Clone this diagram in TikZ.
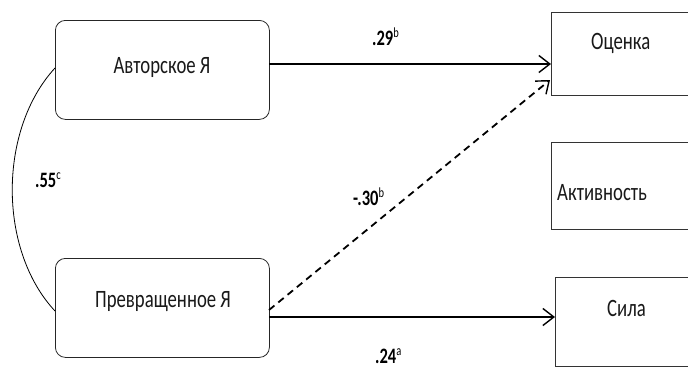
\documentclass[tikz,border=0pt]{standalone}
\usepackage{fontspec}
\setmainfont{Carlito}[FakeStretch=0.75]
\usetikzlibrary{arrows.meta}
\tikzset{
  srcbox/.style={draw=black!85, rounded corners=10pt, line width=0.8pt, minimum width=214pt, minimum height=99pt, inner sep=0pt, anchor=north west},
  tgtbox/.style={draw=black!80, line width=0.8pt, minimum width=200pt, inner sep=0pt, anchor=north west},
  boxtext/.style={font=\fontsize{25}{25}\selectfont, text=black!90, inner sep=0pt},
  coef/.style={font=\fontsize{22}{22}\selectfont\bfseries, inner sep=0pt},
  path/.style={line width=1.8pt, -{Straight Barb[length=11pt,width=17pt,line width=1.4pt]}},
}
\newcommand{\sups}[1]{\textsuperscript{\fontsize{14}{14}\selectfont\mdseries #1}}
\begin{document}
\begin{tikzpicture}[x=1pt,y=-1pt]
\useasboundingbox (0,0) rectangle (688,367);
\clip (0,0) rectangle (688,367);
\node[srcbox] (avt) at (55,20) {};
\node[srcbox] (prev) at (55,258) {};
\node[tgtbox, minimum height=83pt] (ocen) at (551,12) {};
\node[tgtbox, minimum height=87pt] (akt) at (551,142) {};
\node[tgtbox, minimum height=89pt] (sila) at (555,277) {};
\node[boxtext] (tavt) at (162,67) {Авторское Я};
\node[boxtext] (tprev) at (163,302) {Превращенное Я};
\node[boxtext, anchor=west] (tocen) at (591,43) {Оценка};
\node[boxtext, anchor=west] (takt) at (557,193) {Активность};
\node[boxtext, anchor=west] (tsila) at (607,308) {Сила};
\coordinate (a1) at (269,64);
\coordinate (a2) at (551,64);
\coordinate (d1) at (269,310);
\coordinate (d2) at (550,80);
\coordinate (s1) at (269,317);
\coordinate (s2) at (555,317);
\coordinate (c1) at (55,68);
\coordinate (c2) at (55,311);
\draw[path] (a1) -- (a2);
\draw[path, dash pattern=on 7pt off 5pt] (d1) -- (d2);
\draw[path] (s1) -- (s2);
\draw[line width=0.8pt] (c1) .. controls (-2,130) and (-2,250) .. (c2);
\node[coef, anchor=base west] (l29) at (372,45) {.29\sups{b}};
\node[coef, anchor=base west] (l55) at (35,187) {.55\sups{c}};
\node[coef, anchor=base west] (l30) at (353,205) {-.30\sups{b}};
\node[coef, anchor=base west] (l24) at (375,363) {.24\sups{a}};
\end{tikzpicture}
\end{document}
